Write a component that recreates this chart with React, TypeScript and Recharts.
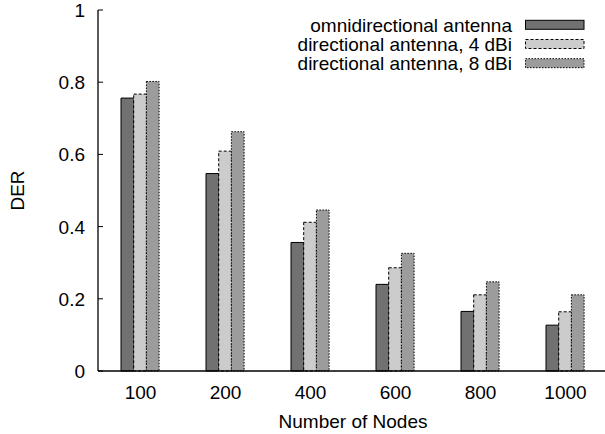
import React from 'react';
import { BarChart, Bar, XAxis, YAxis, Legend } from 'recharts';

const categories = ['100', '200', '400', '600', '800', '1000'];
const omniValues = [0.756, 0.547, 0.356, 0.24, 0.165, 0.127];
const dir4Values = [0.767, 0.609, 0.412, 0.286, 0.211, 0.164];
const dir8Values = [0.802, 0.663, 0.446, 0.326, 0.247, 0.211];
const seriesNames = ['omnidirectional antenna', 'directional antenna, 4 dBi', 'directional antenna, 8 dBi'];
const yTicks = [0, 0.2, 0.4, 0.6, 0.8, 1];

const data = categories.map((c, i) => ({
  nodes: c,
  omni: omniValues[i],
  dir4: dir4Values[i],
  dir8: dir8Values[i],
}));

const FONT = '"Liberation Sans", Arial, Helvetica, sans-serif';
const FS = 19;

const seriesStyles = [
  { key: 'omni', fill: '#717171', dash: undefined as string | undefined },
  { key: 'dir4', fill: '#cccccc', dash: '3 2' },
  { key: 'dir8', fill: '#9c9c9c', dash: '1.5 1.5' },
];

const XTick = (props: any) => {
  const { x, y, payload } = props;
  return (
    <text x={x} y={y + 28} textAnchor="middle" fontFamily={FONT} fontSize={FS} fill="#000">
      {payload.value}
    </text>
  );
};

const YTick = (props: any) => {
  const { x, y, payload } = props;
  return (
    <text x={x - 18} y={y + 7} textAnchor="end" fontFamily={FONT} fontSize={FS} fill="#000">
      {String(payload.value)}
    </text>
  );
};

const LegendContent = () => (
  <svg width={605} height={80} style={{ display: 'block' }}>
    {seriesNames.map((name, i) => {
      const cy = 24.8 + i * 19.2;
      const s = seriesStyles[i];
      return (
        <g key={name}>
          <text x={512} y={cy + 7} textAnchor="end" fontFamily={FONT} fontSize={FS} fill="#000">
            {name}
          </text>
          <rect x={525.5} y={cy - 4.5} width={58.5} height={9} fill={s.fill} stroke="#000" strokeWidth={1} strokeDasharray={s.dash} />
        </g>
      );
    })}
  </svg>
);

export default function App() {
  return (
    <div style={{ position: 'absolute', left: 0, top: 0, width: 605, height: 434, overflow: 'hidden', background: '#fff' }}>
      <BarChart
        width={610}
        height={434}
        data={data}
        margin={{ top: 10, right: 2, bottom: 33, left: 38 }}
        barGap={0}
        barSize={12.7}
      >
        <XAxis
          dataKey="nodes"
          height={30}
          tickLine={false}
          tickSize={0}
          tickMargin={0}
          tick={<XTick />}
          axisLine={{ stroke: '#000', strokeWidth: 1.3 }}
          label={(p: any) => {
            const vb = p.viewBox || {};
            return (
              <text x={vb.x + vb.width / 2} y={vb.y + 57} textAnchor="middle" fontFamily={FONT} fontSize={FS} fill="#000">
                Number of Nodes
              </text>
            );
          }}
        />
        <XAxis
          xAxisId="top"
          dataKey="nodes"
          orientation="top"
          height={0}
          mirror
          tickSize={5}
          tick={false}
          tickLine={{ stroke: '#000', strokeWidth: 1 }}
          axisLine={{ stroke: '#000', strokeWidth: 1.3 }}
        />
        <YAxis
          domain={[0, 1]}
          ticks={yTicks}
          width={60}
          tickSize={-5}
          tickMargin={0}
          tick={<YTick />}
          tickLine={{ stroke: '#000', strokeWidth: 1 }}
          axisLine={{ stroke: '#000', strokeWidth: 1.3 }}
          label={(p: any) => {
            const vb = p.viewBox || {};
            const cx = 17.5;
            const cy = vb.y + vb.height / 2;
            return (
              <text x={cx} y={cy} transform={`rotate(-90 ${cx} ${cy})`} textAnchor="middle" dominantBaseline="central" fontFamily={FONT} fontSize={FS} fill="#000">
                DER
              </text>
            );
          }}
        />
        <YAxis
          yAxisId="right"
          orientation="right"
          domain={[0, 1]}
          ticks={yTicks}
          width={0}
          mirror
          tickSize={5}
          tick={false}
          tickLine={{ stroke: '#000', strokeWidth: 1 }}
          axisLine={{ stroke: '#000', strokeWidth: 1.3 }}
        />
        <Legend
          layout="vertical"
          verticalAlign="middle"
          align="center"
          content={<LegendContent />}
          wrapperStyle={{ position: 'absolute', top: 0, left: 0, width: 605, height: 80 }}
        />
        {seriesStyles.map((s, i) => (
          <Bar
            key={s.key}
            dataKey={s.key}
            name={seriesNames[i]}
            fill={s.fill}
            stroke="#000"
            strokeWidth={1}
            strokeDasharray={s.dash}
            isAnimationActive={false}
          />
        ))}
      </BarChart>
    </div>
  );
}
